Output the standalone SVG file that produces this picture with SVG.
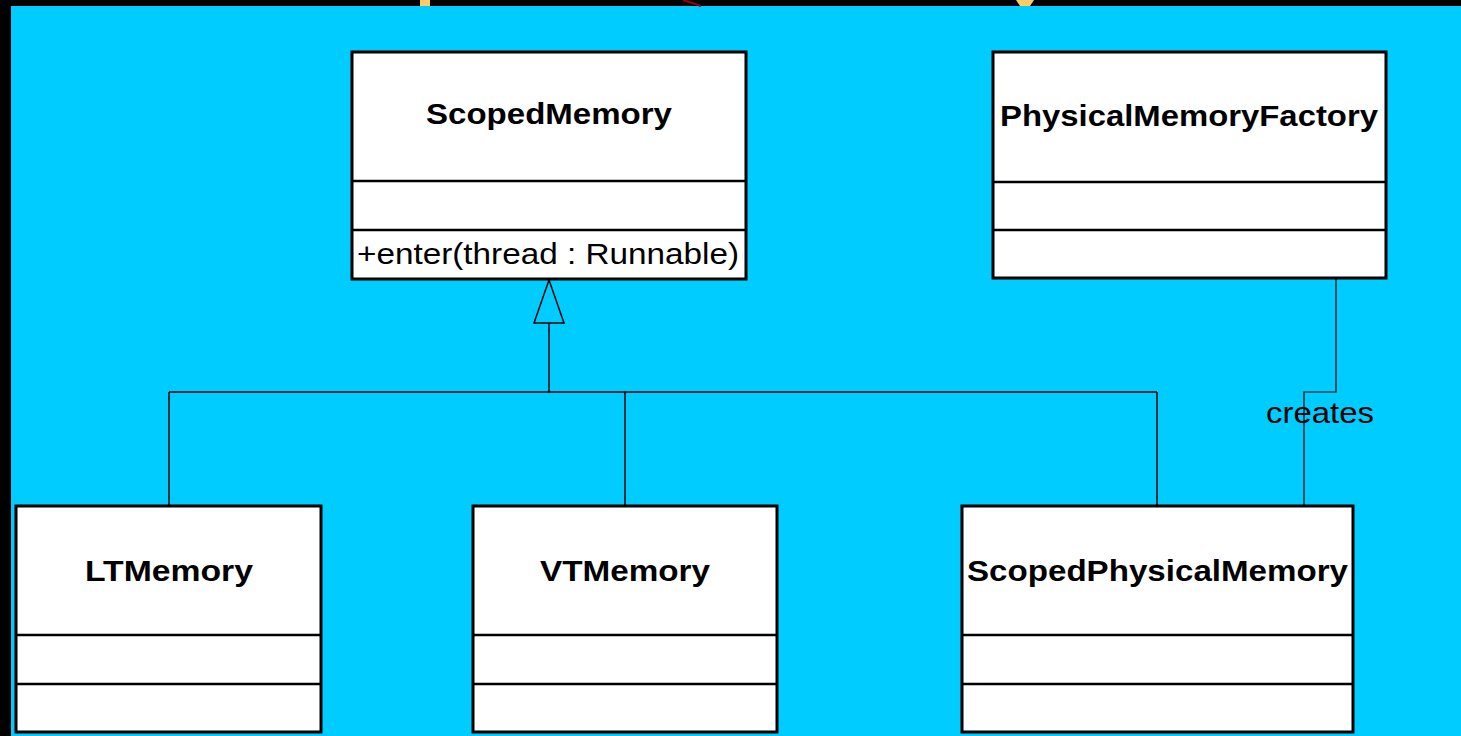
<svg xmlns="http://www.w3.org/2000/svg" width="1461" height="736" viewBox="0 0 1461 736">
  <style>
    .box { fill: #ffffff; stroke: #000000; stroke-width: 3; }
    .div { stroke: #000000; stroke-width: 2.5; }
    .name { font-family: "Liberation Sans", Arial, sans-serif; font-weight: bold; font-size: 29px; fill: #000000; }
    .op { font-family: "Liberation Sans", Arial, sans-serif; font-size: 29px; fill: #000000; }
    .edge { fill: none; stroke: #000000; stroke-width: 1.5; }
    .thin { fill: none; stroke: #000000; stroke-width: 1.2; }
  </style>

  <!-- slide background -->
  <rect x="0" y="0" width="1461" height="736" fill="#000000"/>
  <rect x="11" y="6" width="1450" height="730" fill="#00CCFF"/>

  <!-- remnants of the slide title above the panel -->
  <g id="title-fragments">
    <rect x="420" y="0" width="10" height="6" fill="#FFCC66"/>
    <line x1="683" y1="0" x2="701" y2="6" stroke="#990000" stroke-width="2"/>
    <path d="M1016 0 H1034 L1030 6 H1020 Z" fill="#FFCC66"/>
  </g>

  <!-- connectors -->
  <g id="connectors">
    <!-- generalization tree -->
    <polygon class="edge" points="549,280 564,323 534,323"/>
    <line class="edge" x1="549" y1="323" x2="549" y2="392"/>
    <line class="edge" x1="169" y1="392" x2="1157" y2="392"/>
    <line class="edge" x1="169" y1="392" x2="169" y2="506"/>
    <line class="edge" x1="625" y1="392" x2="625" y2="506"/>
    <line class="edge" x1="1157" y1="392" x2="1157" y2="506"/>
    <!-- creates association -->
    <polyline class="thin" points="1336,279 1336,392 1304,392 1304,506"/>
    <text class="op" x="1266" y="423" textLength="108" lengthAdjust="spacingAndGlyphs">creates</text>
  </g>

  <g id="ScopedMemory">
    <rect class="box" x="352" y="52" width="394" height="227"/>
    <line class="div" x1="352" y1="181" x2="746" y2="181"/>
    <line class="div" x1="352" y1="230" x2="746" y2="230"/>
    <text class="name" x="426" y="124" textLength="246" lengthAdjust="spacingAndGlyphs">ScopedMemory</text>
    <text class="op" x="357" y="264" textLength="382" lengthAdjust="spacingAndGlyphs">+enter(thread : Runnable)</text>
  </g>

  <g id="PhysicalMemoryFactory">
    <rect class="box" x="993" y="52" width="393" height="226"/>
    <line class="div" x1="993" y1="182" x2="1386" y2="182"/>
    <line class="div" x1="993" y1="230" x2="1386" y2="230"/>
    <text class="name" x="1000" y="126" textLength="378" lengthAdjust="spacingAndGlyphs">PhysicalMemoryFactory</text>
  </g>

  <g id="LTMemory">
    <rect class="box" x="16" y="506" width="305" height="226"/>
    <line class="div" x1="16" y1="635" x2="321" y2="635"/>
    <line class="div" x1="16" y1="684" x2="321" y2="684"/>
    <text class="name" x="85" y="581" textLength="168" lengthAdjust="spacingAndGlyphs">LTMemory</text>
  </g>

  <g id="VTMemory">
    <rect class="box" x="473" y="506" width="304" height="226"/>
    <line class="div" x1="473" y1="635" x2="777" y2="635"/>
    <line class="div" x1="473" y1="684" x2="777" y2="684"/>
    <text class="name" x="540" y="581" textLength="170" lengthAdjust="spacingAndGlyphs">VTMemory</text>
  </g>

  <g id="ScopedPhysicalMemory">
    <rect class="box" x="962" y="506" width="391" height="226"/>
    <line class="div" x1="962" y1="635" x2="1353" y2="635"/>
    <line class="div" x1="962" y1="684" x2="1353" y2="684"/>
    <text class="name" x="967" y="581" textLength="381" lengthAdjust="spacingAndGlyphs">ScopedPhysicalMemory</text>
  </g>
</svg>
